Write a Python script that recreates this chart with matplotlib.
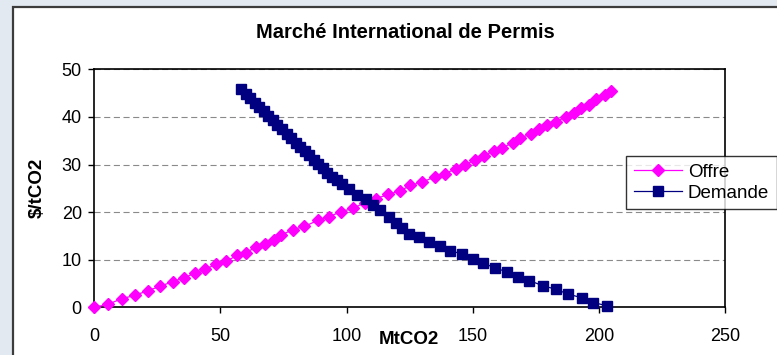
import matplotlib.pyplot as plt
from matplotlib.patches import Rectangle

plt.rcParams['font.family'] = ['Liberation Sans', 'DejaVu Sans']

# courbe d'offre (MtCO2, $/tCO2)
offre_q = [0.0, 5.3, 10.8, 16.1, 21.2, 26.1, 31.0, 35.7, 39.9, 44.0,
           48.1, 52.4, 56.6, 60.1, 64.0, 67.6, 71.1, 74.2, 78.6, 83.3,
           88.8, 92.9, 97.8, 102.7, 107.2, 111.5, 116.5, 121.0, 125.3, 130.0,
           134.9, 139.0, 143.4, 146.9, 150.8, 154.6, 158.3, 161.8, 165.8, 168.9,
           173.0, 176.4, 179.5, 183.2, 186.8, 190.1, 192.9, 196.2, 198.9, 202.3,
           205.0]
offre_p = [0.0, 0.6, 1.8, 2.5, 3.5, 4.4, 5.4, 6.2, 7.2, 8.0,
           9.0, 9.7, 10.9, 11.5, 12.6, 13.3, 14.2, 15.2, 16.3, 17.0,
           18.3, 19.0, 20.1, 20.8, 22.0, 22.8, 23.7, 24.4, 25.6, 26.3,
           27.4, 28.1, 29.1, 29.9, 30.9, 31.8, 32.9, 33.5, 34.6, 35.5,
           36.5, 37.4, 38.2, 39.0, 40.0, 40.9, 41.9, 42.6, 43.7, 44.6,
           45.5]

# courbe de demande
demande_q = [58.3, 60.0, 61.8, 63.6, 65.4, 67.2, 69.0, 70.8, 72.6, 74.4,
             76.2, 78.0, 79.8, 81.6, 83.4, 85.2, 87.0, 88.8, 90.6, 92.4,
             94.4, 96.3, 98.3, 100.9, 104.2, 107.5, 110.5, 113.4, 116.7, 119.4,
             122.0, 124.6, 128.6, 132.5, 136.9, 141.1, 145.7, 150.0, 154.1, 158.8,
             163.6, 167.8, 172.5, 178.0, 182.9, 187.7, 193.2, 197.8, 203.4]
demande_p = [45.9, 44.9, 44.0, 43.0, 42.1, 41.2, 40.2, 39.3, 38.3, 37.4,
             36.5, 35.5, 34.6, 33.7, 32.8, 31.9, 31.0, 30.1, 29.2, 28.3,
             27.4, 26.7, 26.0, 24.8, 23.6, 22.7, 21.5, 20.4, 19.0, 17.8,
             16.6, 15.5, 14.7, 13.8, 12.9, 11.9, 11.2, 10.1, 9.4, 8.2,
             7.5, 6.3, 5.6, 4.5, 3.8, 2.8, 2.0, 1.0, 0.3]

x_ticks = [0, 50, 100, 150, 200, 250]
y_ticks = [0, 10, 20, 30, 40, 50]

W, H = 777, 355
fig = plt.figure(figsize=(W / 100, H / 100), dpi=100, facecolor='#e2e9f1')

# panneau blanc du graphique
fig.patches.append(Rectangle((13 / W, -0.1), 1.0, (H - 7) / H + 0.1,
                             transform=fig.transFigure, facecolor='white',
                             edgecolor='#3c3c3c', linewidth=1.6, zorder=-1))

ax = fig.add_axes([94.3 / W, 1 - 307.3 / H, (725 - 94.3) / W, (307.3 - 69.3) / H])
ax.set_facecolor('white')

ax.plot(offre_q, offre_p, color='#ff00ff', lw=0.9, marker='D', ms=6.3,
        mec='#ff00ff', mfc='#ff00ff', label='Offre', clip_on=False, zorder=3)
ax.plot(demande_q, demande_p, color='#000080', lw=0.9, marker='s', ms=7.3,
        mec='#000080', mfc='#000080', label='Demande', clip_on=False, zorder=4)

ax.set_xlim(0, 250)
ax.set_ylim(0, 50)
ax.set_xticks(x_ticks)
ax.set_yticks(y_ticks)
ax.tick_params(axis='both', direction='out', length=4, width=1, labelsize=13,
               color='black')
ax.tick_params(axis='x', pad=11)
ax.tick_params(axis='y', pad=5)
for s in ax.spines.values():
    s.set_linewidth(1.2)
    s.set_color('black')

ax.yaxis.grid(True, color='#8a8a8a', lw=0.8, dashes=(5.5, 3.2))
ax.set_axisbelow(True)

fig.text(405 / W, 1 - 32 / H, 'Marché International de Permis', ha='center',
         va='center', fontsize=14.5, fontweight='bold')
fig.text(37 / W, 1 - 188 / H, '$/tCO2', rotation=90, ha='center', va='center',
         fontsize=13.5, fontweight='bold')
fig.text(409 / W, 1 - 339 / H, 'MtCO2', ha='center', va='center',
         fontsize=13.5, fontweight='bold')

leg = fig.legend(loc='upper left', bbox_to_anchor=(626 / W, 1 - 156 / H),
                 bbox_transform=fig.transFigure, borderaxespad=0, fontsize=13.5,
                 frameon=True, fancybox=False, shadow=False, numpoints=1,
                 handlelength=2.6, handletextpad=0.3, labelspacing=0.2,
                 borderpad=0.4)
leg.get_frame().set_edgecolor('black')
leg.get_frame().set_linewidth(1.0)

fig.savefig('out.png', dpi=100, facecolor=fig.get_facecolor())
